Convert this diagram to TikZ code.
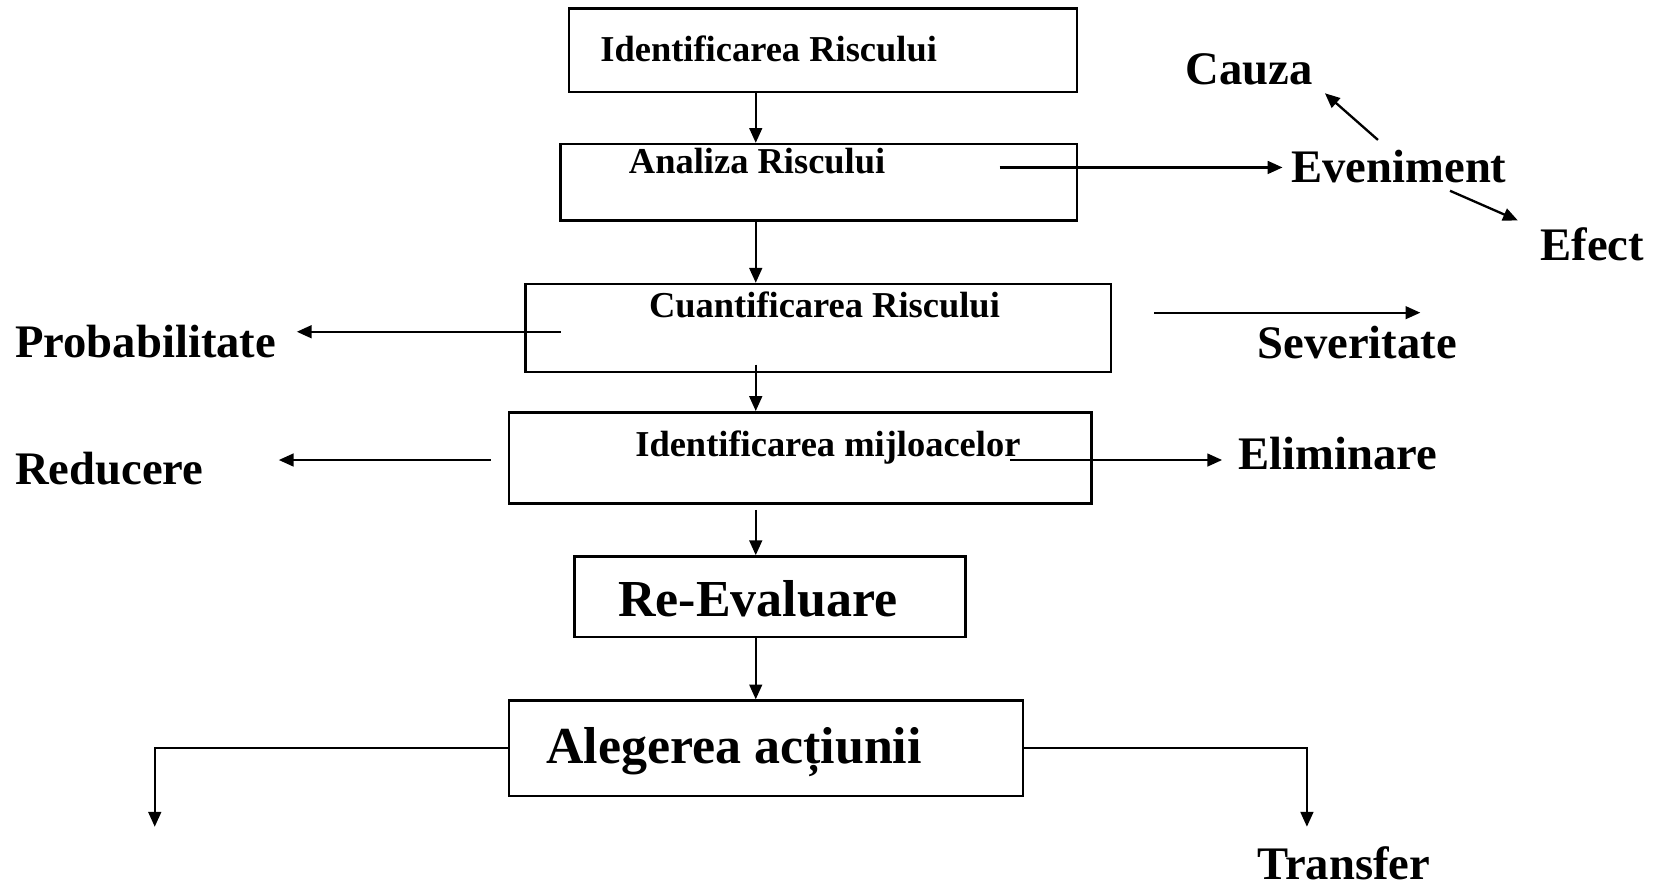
\documentclass[tikz,border=0pt]{standalone}
\usepackage{fontspec}
\setmainfont{Liberation Serif}
\usetikzlibrary{arrows.meta}
\begin{document}
\begin{tikzpicture}[x=0.5pt,y=-0.5pt,
  box/.style={draw,line width=1.2pt,rectangle,inner sep=0pt},
  arr/.style={line width=1.1pt,-{Triangle[length=7pt,width=6pt]}},
  small/.style={font=\bfseries\fontsize{17.2}{19}\selectfont,inner sep=0pt,anchor=base west},
  big/.style={font=\bfseries\fontsize{22}{24}\selectfont,inner sep=0pt,anchor=base west},
  huge/.style={font=\bfseries\fontsize{24.5}{27}\selectfont,inner sep=0pt,anchor=base west}]
\useasboundingbox (0,0) rectangle (1568,839);
\coordinate (axis) at (713,0);
% boxes
\node[box,minimum width=239.5pt,minimum height=39.5pt] (b1) at (776.5,47.5) {};
\node[box,minimum width=243.5pt,minimum height=36pt] (b2) at (772.5,172) {};
\node[box,minimum width=276pt,minimum height=41.5pt] (b3) at (772,309.5) {};
\node[box,minimum width=275pt,minimum height=43pt] (b4) at (755,432) {};
\node[box,minimum width=184.5pt,minimum height=38pt] (b5) at (726.5,563) {};
\node[box,minimum width=242.5pt,minimum height=45pt] (b6) at (722.5,706) {};
% box texts
\node[small] (t1) at (566,58) {Identificarea Riscului};
\node[small] (t2) at (593,164) {Analiza Riscului};
\node[small] (t3) at (612,300) {Cuantificarea Riscului};
\node[small] (t4) at (599,431) {Identificarea mijloacelor};
\node[huge] (t5) at (583,582) {Re-Evaluare};
\node[huge] (t6) at (515,720) {Alegerea acțiunii};
% side labels
\node[big] (cauza) at (1118,80) {Cauza};
\node[big] (even) at (1218,172) {Eveniment};
\node[big] (efect) at (1453,246) {Efect};
\node[big] (prob) at (14,337) {Probabilitate};
\node[big] (sev) at (1186,338) {Severitate};
\node[big] (red) at (14,457) {Reducere};
\node[big] (elim) at (1168,443) {Eliminare};
\node[big] (transf) at (1186,830) {Transfer};
% coordinates for free ends
\coordinate (a2s) at (943,158);
\coordinate (evc) at (1300,132);
\coordinate (cauzaend) at (1250,88);
\coordinate (eve) at (1368,180);
\coordinate (efectend) at (1432,208);
\coordinate (p3s) at (529,313);
\coordinate (probend) at (280,313);
\coordinate (s3s) at (1089,295);
\coordinate (sevend) at (1340,295);
\coordinate (d3s) at (713,344);
\coordinate (r4s) at (463,434);
\coordinate (redend) at (263,434);
\coordinate (e4s) at (953,434);
\coordinate (elimend) at (1153,434);
\coordinate (d4s) at (713,481);
\coordinate (lcorner) at (146,706);
\coordinate (lend) at (146,780);
\coordinate (rcorner) at (1233,706);
\coordinate (rend) at (1233,780);
% connectors
\draw[arr] (b1.south -| axis) -- (b2.north -| axis);
\draw[arr] (a2s) -- (1210,158);
\draw[arr] (evc) -- (cauzaend);
\draw[arr] (eve) -- (efectend);
\draw[arr] (b2.south -| axis) -- (b3.north -| axis);
\draw[arr] (p3s) -- (probend);
\draw[arr] (s3s) -- (sevend);
\draw[arr] (d3s) -- (b4.north -| axis);
\draw[arr] (r4s) -- (redend);
\draw[arr] (e4s) -- (elimend);
\draw[arr] (d4s) -- (b5.north -| axis);
\draw[arr] (b5.south -| axis) -- (b6.north -| axis);
\draw[arr] (b6.west) -- (lcorner) -- (lend);
\draw[arr] (b6.east) -- (rcorner) -- (rend);
\end{tikzpicture}
\end{document}
